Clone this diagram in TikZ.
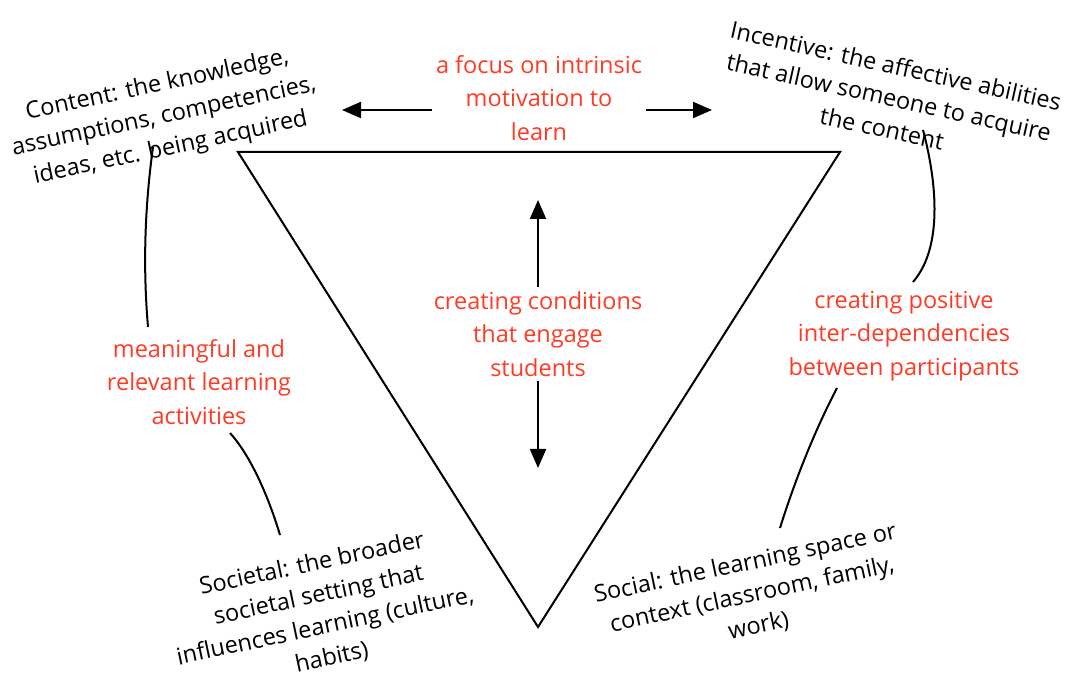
\documentclass[tikz,border=0pt]{standalone}
\usepackage{fontspec}
\setmainfont{Open Sans}
\usetikzlibrary{arrows.meta,positioning}

\definecolor{idea}{RGB}{255,59,38}

\begin{document}
\begin{tikzpicture}[x=1pt,y=1pt,line width=2pt,
    redtext/.style={text=idea,align=center,fill=white,inner sep=3pt,font=\fontsize{23.5}{33.5}\selectfont},
    facet/.style={align=center,inner sep=2pt,font=\fontsize{23.5}{32}\selectfont},
    arr/.style={-{Triangle[length=19pt,width=16pt]}}]
    \useasboundingbox (0,0) rectangle (1067,680);

    % Inverted triangle
    \draw[line join=miter] (238,528) -- (840,528) -- (538,53) -- cycle;

    % Red statements
    \node[redtext] (focus) at (539,582) {a focus on intrinsic\\motivation to\\learn};
    \node[redtext] (engage) at (538,346) {creating conditions\\that engage\\students};
    \node[redtext] (meaning) at (199,298) {meaningful and\\relevant learning\\activities};
    \node[redtext] (positive) at (904,344) {creating positive\\inter-dependencies\\between participants};

    % Corner descriptions
    \node[facet,rotate=12] (content) at (164,563) {Content: the knowledge,\\assumptions, competencies,\\ideas, etc. being acquired};
    \node[facet,rotate=-12.5] (incentive) at (889,583) {Incentive: the affective abilities\\that allow someone to acquire\\the content};
    \node[facet,rotate=12] (societal) at (322,69) {Societal: the broader\\societal setting that\\influences learning (culture,\\habits)};
    \node[facet,rotate=12] (social) at (752,85) {Social: the learning space or\\context (classroom, family,\\work)};

    % Arrows
    \coordinate (lefttip) at (342,570);
    \coordinate (righttip) at (712,570);
    \coordinate (uptip) at (538,480);
    \coordinate (downtip) at (538,212);
    \draw[arr] (focus.west |- lefttip) -- (lefttip);
    \draw[arr] (focus.east |- righttip) -- (righttip);
    \draw[arr] (engage.north) -- (uptip);
    \draw[arr] (engage.south) -- (downtip);

    % Links
    \coordinate (ct) at (153,533);
    \coordinate (mt) at (148,353);
    \coordinate (mb) at (230,247);
    \coordinate (st) at (280,145);
    \coordinate (ib) at (923,550);
    \coordinate (pt) at (913,398);
    \coordinate (pb) at (837,292);
    \coordinate (so) at (780,152);
    \draw (ct) .. controls (143,460) and (144,400) .. (mt);
    \draw (mb) .. controls (250,225) and (268,185) .. (st);
    \draw (ib) .. controls (935,505) and (945,435) .. (pt);
    \draw (pb) .. controls (815,250) and (795,200) .. (so);
\end{tikzpicture}
\end{document}
